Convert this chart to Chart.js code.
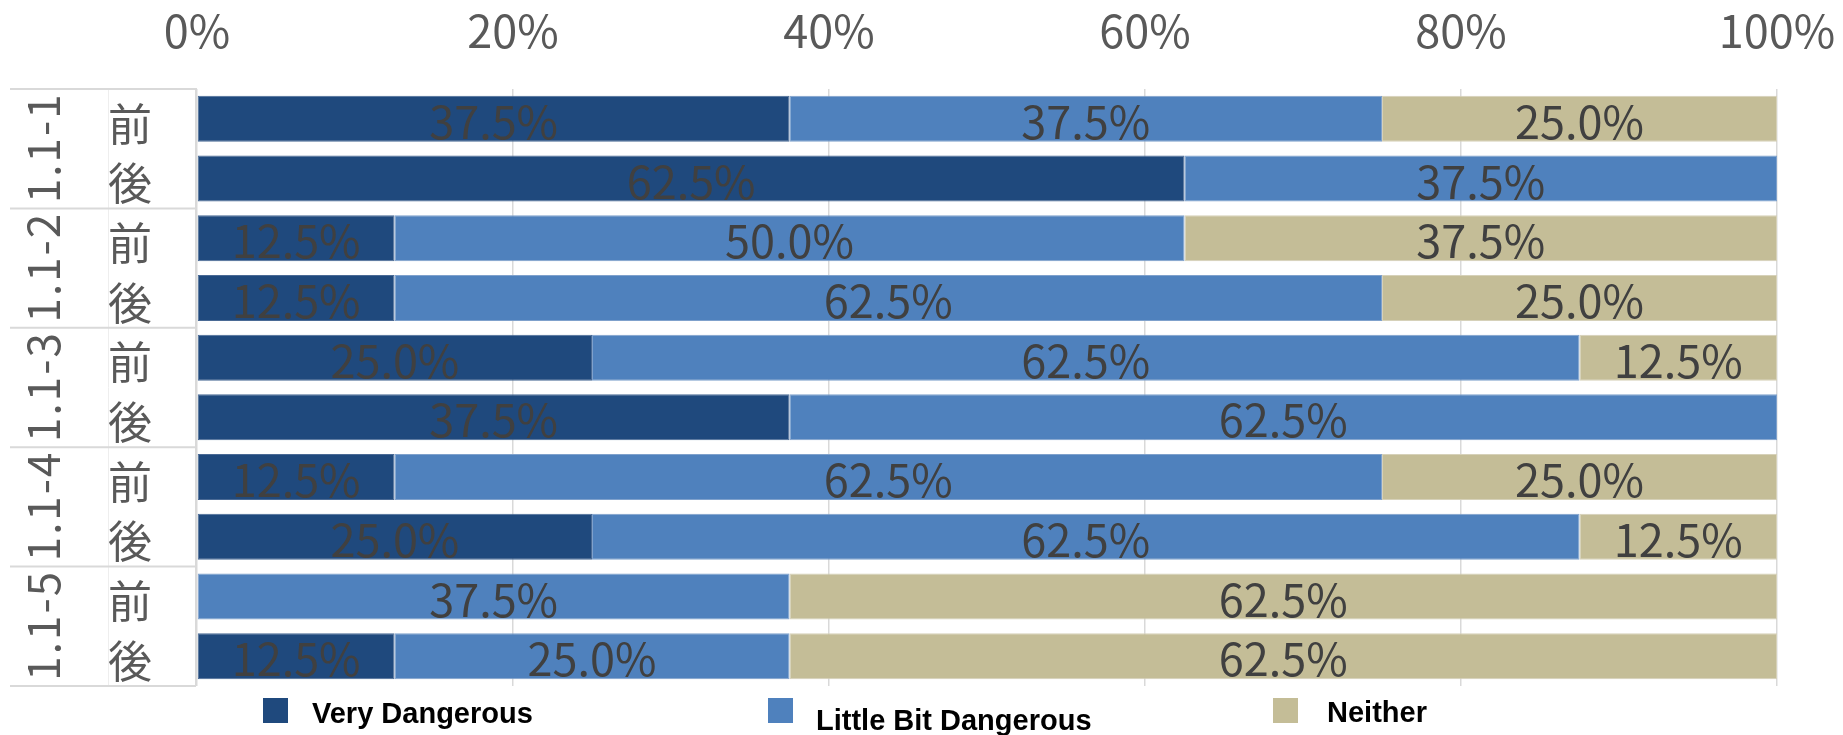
<!DOCTYPE html>
<html lang="ja">
<head>
<meta charset="utf-8">
<title>危険度の認識(前・後)</title>
<script src="https://cdn.jsdelivr.net/npm/chart.js@4.4.1/dist/chart.umd.min.js"></script>
<style>
  html, body { margin: 0; padding: 0; background: #ffffff; }
  #wrap { width: 1843px; height: 735px; position: relative; }
  canvas { display: block; }
</style>
</head>
<body>
<div id="wrap"><canvas id="chart" width="1843" height="735"></canvas></div>
<script>
// ---- data ----
const groups = ['1.1-1', '1.1-2', '1.1-3', '1.1-4', '1.1-5'];
const phases = ['前', '後'];
const seriesNames = ['Very Dangerous', 'Little Bit Dangerous', 'Neither'];
const veryDangerous      = [37.5, 62.5, 12.5, 12.5, 25.0, 37.5, 12.5, 25.0, 0,    12.5];
const littleBitDangerous = [37.5, 37.5, 50.0, 62.5, 62.5, 62.5, 62.5, 62.5, 37.5, 25.0];
const neither            = [25.0, 0,    37.5, 25.0, 12.5, 0,    25.0, 12.5, 62.5, 62.5];
const xTicks = [0, 20, 40, 60, 80, 100];

// one category per (group, phase) pair, top to bottom
const categories = groups.flatMap(() => phases);

// ---- styling ----
const NUM_FONT = '"Noto Sans CJK JP", "Noto Sans", sans-serif';
const LEGEND_FONT = '"Liberation Sans", Arial, sans-serif';
const fills   = ['#1f497d', '#4f81bd', '#c4bd97'];
const borders = ['#4a6a95', '#7fa1cc', '#d6d1b9'];

// group labels and separators drawn in the left axis area
const groupAxis = {
  id: 'groupAxis',
  afterDraw(chart) {
    const { ctx, chartArea: { left, top, bottom } } = chart;
    const y = chart.scales.y;
    const per = phases.length;
    const band = y.getPixelForValue(1) - y.getPixelForValue(0);
    ctx.save();
    // faint divider between group label column and phase label column
    ctx.strokeStyle = '#eeeeee';
    ctx.lineWidth = 1;
    ctx.beginPath();
    ctx.moveTo(108.5, top); ctx.lineTo(108.5, bottom);
    ctx.stroke();
    // axis line along the plot's left edge
    ctx.strokeStyle = '#d9d9d9';
    ctx.lineWidth = 2;
    ctx.beginPath();
    ctx.moveTo(left - 1, top - 1); ctx.lineTo(left - 1, bottom);
    ctx.stroke();
    // group boundaries
    for (let g = 0; g <= groups.length; g++) {
      const yb = g === groups.length ? bottom : y.getPixelForValue(g * per) - band / 2;
      ctx.beginPath();
      ctx.moveTo(10, yb); ctx.lineTo(left - 1, yb);
      ctx.stroke();
    }
    // rotated group names
    ctx.fillStyle = '#595959';
    ctx.font = '44px ' + NUM_FONT;
    ctx.letterSpacing = '2px';
    ctx.textAlign = 'center';
    ctx.textBaseline = 'middle';
    groups.forEach((name, g) => {
      const yc = (y.getPixelForValue(g * per) + y.getPixelForValue(g * per + per - 1)) / 2;
      ctx.save();
      ctx.translate(43, yc);
      ctx.rotate(-Math.PI / 2);
      ctx.fillText(name, 1, 0);
      ctx.restore();
    });
    ctx.restore();
  }
};

// percentage labels centred in each bar segment
const segmentLabels = {
  id: 'segmentLabels',
  afterDatasetsDraw(chart) {
    const { ctx } = chart;
    ctx.save();
    ctx.fillStyle = '#404040';
    ctx.font = '45px ' + NUM_FONT;
    ctx.textAlign = 'center';
    ctx.textBaseline = 'middle';
    chart.data.datasets.forEach((ds, i) => {
      const meta = chart.getDatasetMeta(i);
      meta.data.forEach((bar, j) => {
        const v = ds.data[j];
        if (!v) return;
        const x = (bar.x + bar.base) / 2;
        ctx.fillText(v.toFixed(1) + '%', x, bar.y + 3);
      });
    });
    ctx.restore();
  }
};

// legend row under the plot
const bottomLegend = {
  id: 'bottomLegend',
  afterDraw(chart) {
    const { ctx } = chart;
    const boxX = [263, 768, 1273];
    const textX = [312, 816, 1327];
    const baseY = [723, 730, 722];
    ctx.save();
    ctx.font = 'bold 29px ' + LEGEND_FONT;
    ctx.textAlign = 'left';
    ctx.textBaseline = 'alphabetic';
    chart.data.datasets.forEach((ds, i) => {
      ctx.fillStyle = ds.backgroundColor;
      ctx.fillRect(boxX[i], 698, 25, 25);
      ctx.fillStyle = '#000000';
      ctx.fillText(ds.label, textX[i], baseY[i]);
    });
    ctx.restore();
  }
};

function build() {
  const seriesValues = [veryDangerous, littleBitDangerous, neither];
  new Chart(document.getElementById('chart'), {
    type: 'bar',
    data: {
      labels: categories,
      datasets: seriesValues.map((vals, i) => ({
        label: seriesNames[i],
        data: vals,
        backgroundColor: fills[i],
        borderColor: borders[i],
        borderWidth: 1,
        borderSkipped: false,
        barPercentage: 0.77,
        categoryPercentage: 1.0
      }))
    },
    options: {
      indexAxis: 'y',
      responsive: false,
      animation: false,
      devicePixelRatio: 1,
      layout: { padding: { left: 0, right: 66, top: 0, bottom: 49 } },
      plugins: {
        legend: { display: false },
        tooltip: { enabled: false }
      },
      scales: {
        x: {
          position: 'top',
          stacked: true,
          min: 0,
          max: 100,
          afterBuildTicks(scale) { scale.ticks = xTicks.map(v => ({ value: v })); },
          afterFit(scale) {
            scale.height = 89;
            scale.paddingLeft = 0; scale.paddingRight = 0;
            scale.paddingTop = 0; scale.paddingBottom = 0;
          },
          ticks: {
            callback: v => v + '%',
            color: '#595959',
            font: { family: NUM_FONT, size: 45, lineHeight: 1 },
            padding: 36,
            maxRotation: 0,
            autoSkip: false
          },
          grid: { color: '#d9d9d9', lineWidth: 1.5, drawTicks: false },
          border: { display: false }
        },
        y: {
          stacked: true,
          afterFit(scale) {
            scale.width = 197;
            scale.paddingLeft = 0; scale.paddingRight = 0;
            scale.paddingTop = 0; scale.paddingBottom = 0;
          },
          ticks: {
            color: '#595959',
            font: { family: NUM_FONT, size: 44 },
            crossAlign: 'near',
            padding: 45,
            labelOffset: 5,
            autoSkip: false
          },
          grid: { display: false, drawTicks: false },
          border: { display: false }
        }
      }
    },
    plugins: [groupAxis, segmentLabels, bottomLegend]
  });
}

const fontLoads = [
  document.fonts.load('45px "Noto Sans CJK JP"', '前後0123456789.%'),
  document.fonts.load('bold 29px "Liberation Sans"', 'Very Dangerous')
];
Promise.all(fontLoads).then(build, build);
</script>
</body>
</html>
